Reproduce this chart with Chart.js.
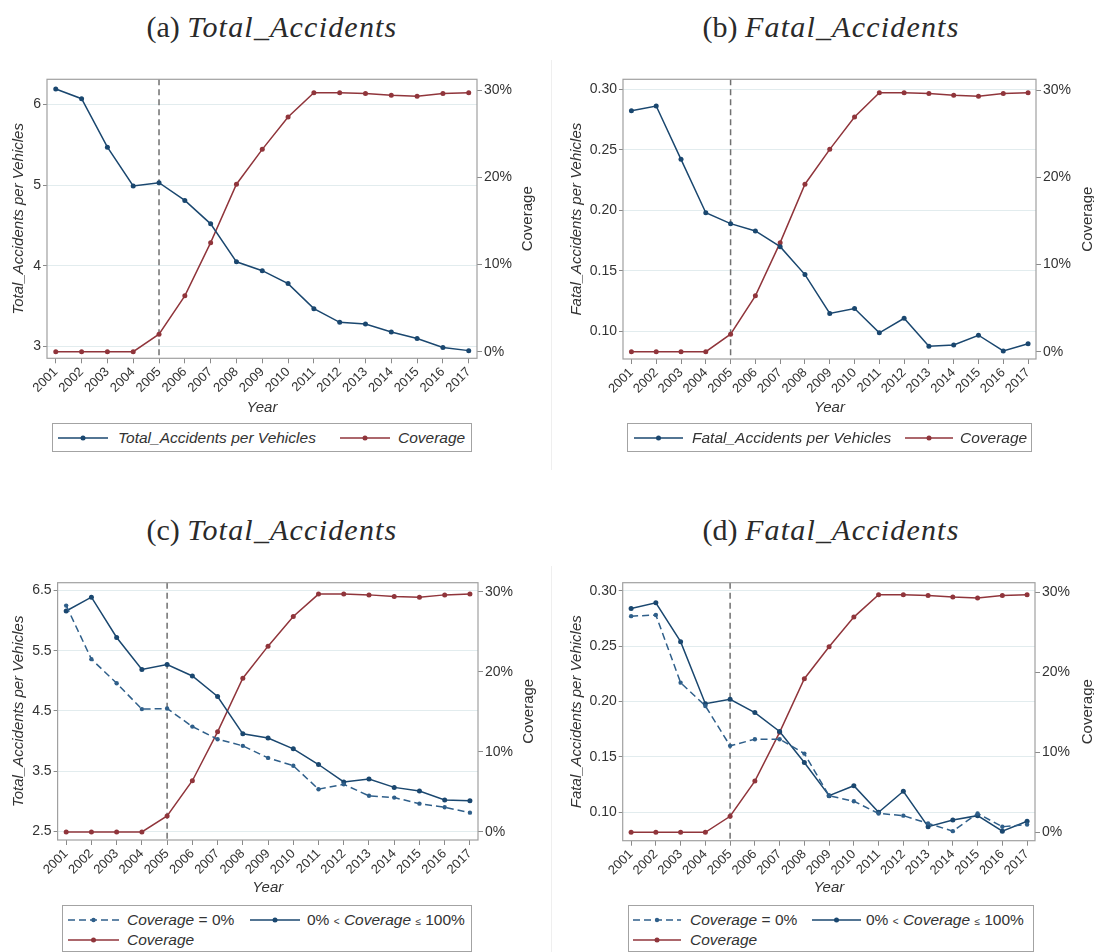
<!DOCTYPE html>
<html>
<head>
<meta charset="utf-8">
<script src="https://cdn.jsdelivr.net/npm/chart.js@4.4.0/dist/chart.umd.min.js"></script>
<style>
  html, body { margin: 0; padding: 0; background: #fff; }
  #page { position: relative; width: 1094px; height: 952px; overflow: hidden; background: #fff; }
  canvas { position: absolute; }
  .title { position: absolute; width: 500px; text-align: center; font-family: "Liberation Serif", "Times New Roman", serif;
           font-size: 30px; line-height: 30px; color: #2a2a2a; white-space: nowrap; }
  .title i { letter-spacing: 1.2px; }
  .legend { position: absolute; box-sizing: border-box; border: 1px solid #a3a3a3; background: #fff; }
  .legend svg { position: absolute; }
  .legend span { position: absolute; font-family: "Liberation Sans", Arial, sans-serif; font-size: 15.5px; line-height: 20px;
                 color: #333; white-space: nowrap; }
  .legend small { font-size: 10px; }
  .sep { position: absolute; width: 1px; background: #efefef; }
</style>
</head>
<body>
<div id="page">
  <div class="sep" style="left:551px;top:60px;height:410px"></div>
  <div class="sep" style="left:551px;top:566px;height:386px"></div>

  <div class="title" style="left:22px;top:12px">(a) <i>Total_Accidents</i></div>
  <div class="title" style="left:581px;top:12px">(b) <i>Fatal_Accidents</i></div>
  <div class="title" style="left:22px;top:515px">(c) <i>Total_Accidents</i></div>
  <div class="title" style="left:581px;top:515px">(d) <i>Fatal_Accidents</i></div>

  <canvas id="chartA" width="547" height="365" style="left:0;top:60px"></canvas>
  <canvas id="chartB" width="547" height="365" style="left:547px;top:60px"></canvas>
  <canvas id="chartC" width="547" height="345" style="left:0;top:560px"></canvas>
  <canvas id="chartD" width="547" height="345" style="left:547px;top:560px"></canvas>

  <div class="legend" style="left:52px;top:423px;width:420px;height:29px">
    <svg style="left:5px;top:9px" width="50" height="10"><line x1="0" y1="5" x2="50" y2="5" stroke="#1a476f" stroke-width="1.5"/><circle cx="25" cy="5" r="2.5" fill="#1a476f"/></svg>
    <span style="left:65px;top:4px"><i>Total_Accidents per Vehicles</i></span>
    <svg style="left:287px;top:9px" width="50" height="10"><line x1="0" y1="5" x2="50" y2="5" stroke="#90353b" stroke-width="1.5"/><circle cx="25" cy="5" r="2.5" fill="#90353b"/></svg>
    <span style="left:345px;top:4px"><i>Coverage</i></span>
  </div>
  <div class="legend" style="left:627px;top:423px;width:405px;height:29px">
    <svg style="left:6px;top:9px" width="49" height="10"><line x1="0" y1="5" x2="49" y2="5" stroke="#1a476f" stroke-width="1.5"/><circle cx="24.5" cy="5" r="2.5" fill="#1a476f"/></svg>
    <span style="left:64px;top:4px"><i>Fatal_Accidents per Vehicles</i></span>
    <svg style="left:277px;top:9px" width="48" height="10"><line x1="0" y1="5" x2="48" y2="5" stroke="#90353b" stroke-width="1.5"/><circle cx="24" cy="5" r="2.5" fill="#90353b"/></svg>
    <span style="left:332px;top:4px"><i>Coverage</i></span>
  </div>
  <div class="legend" style="left:62px;top:905px;width:410px;height:47px">
    <svg style="left:5px;top:9px" width="51" height="10"><line x1="0" y1="5" x2="51" y2="5" stroke="#2f5f8a" stroke-width="1.5" stroke-dasharray="7 4"/><circle cx="25.5" cy="5" r="2.2" fill="#2f5f8a"/></svg>
    <span style="left:64px;top:4px"><i>Coverage</i> = 0%</span>
    <svg style="left:187px;top:9px" width="50" height="10"><line x1="0" y1="5" x2="50" y2="5" stroke="#1a476f" stroke-width="1.5"/><circle cx="25" cy="5" r="2.5" fill="#1a476f"/></svg>
    <span style="left:244px;top:4px">0% <small>&lt;</small> <i>Coverage</i> <small>&le;</small> 100%</span>
    <svg style="left:5px;top:29px" width="51" height="10"><line x1="0" y1="5" x2="51" y2="5" stroke="#90353b" stroke-width="1.5"/><circle cx="25.5" cy="5" r="2.5" fill="#90353b"/></svg>
    <span style="left:64px;top:24px"><i>Coverage</i></span>
  </div>
  <div class="legend" style="left:628px;top:905px;width:406px;height:47px">
    <svg style="left:4px;top:9px" width="48" height="10"><line x1="0" y1="5" x2="48" y2="5" stroke="#2f5f8a" stroke-width="1.5" stroke-dasharray="7 4"/><circle cx="24" cy="5" r="2.2" fill="#2f5f8a"/></svg>
    <span style="left:61px;top:4px"><i>Coverage</i> = 0%</span>
    <svg style="left:183px;top:9px" width="49" height="10"><line x1="0" y1="5" x2="49" y2="5" stroke="#1a476f" stroke-width="1.5"/><circle cx="24.5" cy="5" r="2.5" fill="#1a476f"/></svg>
    <span style="left:237px;top:4px">0% <small>&lt;</small> <i>Coverage</i> <small>&le;</small> 100%</span>
    <svg style="left:4px;top:29px" width="48" height="10"><line x1="0" y1="5" x2="48" y2="5" stroke="#90353b" stroke-width="1.5"/><circle cx="24" cy="5" r="2.5" fill="#90353b"/></svg>
    <span style="left:61px;top:24px"><i>Coverage</i></span>
  </div>
</div>

<script>
// Data
const years = [2001, 2002, 2003, 2004, 2005, 2006, 2007, 2008, 2009, 2010, 2011, 2012, 2013, 2014, 2015, 2016, 2017];
const policyYear = 2005;

// Coverage (%), right axis, same in every panel
const coverage = [0, 0, 0, 0, 2.0, 6.4, 12.5, 19.2, 23.2, 26.9, 29.7, 29.7, 29.6, 29.4, 29.3, 29.6, 29.7];

// (a) and (b): all municipalities
const totalAccidents = [6.19, 6.07, 5.47, 4.99, 5.03, 4.81, 4.52, 4.05, 3.94, 3.78, 3.47, 3.30, 3.28, 3.18, 3.10, 2.99, 2.95];
const fatalAccidents = [0.282, 0.286, 0.242, 0.198, 0.189, 0.183, 0.170, 0.147, 0.115, 0.119, 0.099, 0.111, 0.088, 0.089, 0.097, 0.084, 0.090];

// (c) and (d): split by coverage group
const totalCovZero = [6.25, 5.36, 4.96, 4.53, 4.54, 4.24, 4.03, 3.92, 3.72, 3.59, 3.20, 3.28, 3.09, 3.06, 2.96, 2.90, 2.81];
const totalCovPos = [6.16, 6.39, 5.72, 5.19, 5.27, 5.08, 4.74, 4.12, 4.05, 3.87, 3.61, 3.32, 3.37, 3.23, 3.17, 3.02, 3.01];
const fatalCovZero = [0.277, 0.278, 0.217, 0.196, 0.160, 0.166, 0.166, 0.153, 0.115, 0.110, 0.099, 0.097, 0.090, 0.083, 0.099, 0.087, 0.089];
const fatalCovPos = [0.284, 0.289, 0.254, 0.198, 0.202, 0.190, 0.173, 0.145, 0.115, 0.124, 0.100, 0.119, 0.087, 0.093, 0.097, 0.083, 0.092];

// Tick labels
const totalTicksA = [3, 4, 5, 6];
const totalTicksC = [2.5, 3.5, 4.5, 5.5, 6.5];
const fatalTicks = [0.10, 0.15, 0.20, 0.25, 0.30];
const coverageTicks = [0, 10, 20, 30];

const NAVY = '#1a476f';
const NAVY_DASH = '#2f5f8a';
const MAROON = '#90353b';
const TEXT = '#333';
const SANS = '"Liberation Sans", Arial, sans-serif';

// plot frame + dashed vertical line at the policy year
const framePlugin = {
    id: 'frame',
    beforeDatasetsDraw(chart) {
        const { ctx, chartArea: a, scales } = chart;
        const x = scales.x.getPixelForValue(policyYear);
        ctx.save();
        ctx.strokeStyle = '#707070';
        ctx.lineWidth = 1.5;
        ctx.setLineDash([6, 4]);
        ctx.beginPath();
        ctx.moveTo(x, a.top);
        ctx.lineTo(x, a.bottom);
        ctx.stroke();
        ctx.setLineDash([]);
        ctx.strokeStyle = '#a0a0a0';
        ctx.lineWidth = 1.2;
        ctx.strokeRect(a.left, a.top, a.right - a.left, a.bottom - a.top);
        ctx.restore();
    }
};

// right axis title reads bottom-to-top like the left one
const rightTitlePlugin = {
    id: 'rightTitle',
    afterDraw(chart, args, opts) {
        const { ctx, chartArea: a } = chart;
        ctx.save();
        ctx.translate(opts.x, (a.top + a.bottom) / 2);
        ctx.rotate(-Math.PI / 2);
        ctx.font = `15px ${SANS}`;
        ctx.fillStyle = TEXT;
        ctx.textAlign = 'center';
        ctx.textBaseline = 'middle';
        ctx.fillText(opts.text, 0, 0);
        ctx.restore();
    }
};

function points(vals) {
    return years.map((yr, i) => ({ x: yr, y: vals[i] }));
}

function series(label, vals, color, axis, dashed) {
    return {
        label: label,
        data: points(vals),
        yAxisID: axis,
        borderColor: color,
        backgroundColor: color,
        borderWidth: 1.5,
        borderDash: dashed ? [7, 4] : [],
        pointRadius: dashed ? 2.2 : 2.5,
        pointBorderWidth: 0,
        tension: 0,
        fill: false
    };
}

function makePanel(id, p) {
    const ctx = document.getElementById(id).getContext('2d');
    return new Chart(ctx, {
        type: 'line',
        data: { datasets: p.datasets },
        options: {
            responsive: false,
            animation: false,
            layout: { padding: { top: p.padTop, left: 0, right: 0, bottom: 0 } },
            plugins: {
                legend: { display: false },
                tooltip: { enabled: false },
                rightTitle: { x: p.rightTitleX, text: 'Coverage' }
            },
            scales: {
                x: {
                    type: 'linear',
                    min: 2000.66,
                    max: 2017.32,
                    afterBuildTicks: s => { s.ticks = years.map(v => ({ value: v })); },
                    afterFit: s => { s.height = p.xHeight; },
                    border: { display: false },
                    grid: { drawOnChartArea: false, tickLength: 5, tickColor: '#8a8a8a' },
                    ticks: {
                        autoSkip: false, minRotation: 45, maxRotation: 45, padding: 1,
                        color: TEXT, font: { family: SANS, size: 13 },
                        callback: v => String(v)
                    },
                    title: {
                        display: true, text: 'Year', color: TEXT,
                        font: { family: SANS, size: 15, style: 'italic' },
                        padding: { top: 0, bottom: p.yearPad }
                    }
                },
                y: {
                    position: 'left',
                    min: p.yMin,
                    max: p.yMax,
                    afterBuildTicks: s => { s.ticks = p.leftTicks.map(v => ({ value: v })); },
                    afterFit: s => { s.width = p.leftWidth; },
                    border: { display: false },
                    grid: { color: '#e2ecee', lineWidth: 1, tickLength: 4, tickColor: '#8a8a8a' },
                    ticks: {
                        padding: 2, color: TEXT, font: { family: SANS, size: 14 },
                        callback: p.leftFmt
                    },
                    title: {
                        display: true, text: p.leftTitle, color: TEXT,
                        font: { family: SANS, size: 15, style: 'italic' },
                        padding: { top: p.leftTitlePad, bottom: 0 }
                    }
                },
                y2: {
                    position: 'right',
                    min: p.cMin,
                    max: p.cMax,
                    afterBuildTicks: s => { s.ticks = coverageTicks.map(v => ({ value: v })); },
                    afterFit: s => { s.width = p.rightWidth; },
                    border: { display: false },
                    grid: { drawOnChartArea: false, tickLength: 5, tickColor: '#8a8a8a' },
                    ticks: {
                        padding: 2, color: TEXT, font: { family: SANS, size: 14 },
                        callback: v => v + '%'
                    }
                }
            }
        },
        plugins: [framePlugin, rightTitlePlugin]
    });
}

makePanel('chartA', {
    datasets: [
        series('Total_Accidents per Vehicles', totalAccidents, NAVY, 'y', false),
        series('Coverage', coverage, MAROON, 'y2', false)
    ],
    padTop: 19.3, xHeight: 66.7, yearPad: 8.3,
    leftWidth: 47, rightWidth: 70, leftTitlePad: 10.2, rightTitleX: 527.7,
    yMin: 2.855, yMax: 6.31, leftTicks: totalTicksA, leftFmt: v => String(v),
    leftTitle: 'Total_Accidents per Vehicles',
    cMin: -0.76, cMax: 31.23
});

makePanel('chartB', {
    datasets: [
        series('Fatal_Accidents per Vehicles', fatalAccidents, NAVY, 'y', false),
        series('Coverage', coverage, MAROON, 'y2', false)
    ],
    padTop: 19.3, xHeight: 66, yearPad: 8.3,
    leftWidth: 76, rightWidth: 58, leftTitlePad: 20.7, rightTitleX: 540.8,
    yMin: 0.0774, yMax: 0.308, leftTicks: fatalTicks, leftFmt: v => v.toFixed(2),
    leftTitle: 'Fatal_Accidents per Vehicles',
    cMin: -0.84, cMax: 31.23
});

makePanel('chartC', {
    datasets: [
        series('Coverage = 0%', totalCovZero, NAVY_DASH, 'y', true),
        series('0% < Coverage ≤ 100%', totalCovPos, NAVY, 'y', false),
        series('Coverage', coverage, MAROON, 'y2', false)
    ],
    padTop: 22.7, xHeight: 65, yearPad: 7.7,
    leftWidth: 57.6, rightWidth: 69, leftTitlePad: 10, rightTitleX: 528.6,
    yMin: 2.356, yMax: 6.63, leftTicks: totalTicksC, leftFmt: v => v.toFixed(1),
    leftTitle: 'Total_Accidents per Vehicles',
    cMin: -1.0, cMax: 31.12
});

makePanel('chartD', {
    datasets: [
        series('Coverage = 0%', fatalCovZero, NAVY_DASH, 'y', true),
        series('0% < Coverage ≤ 100%', fatalCovPos, NAVY, 'y', false),
        series('Coverage', coverage, MAROON, 'y2', false)
    ],
    padTop: 22.7, xHeight: 64.3, yearPad: 7.7,
    leftWidth: 75.7, rightWidth: 59, leftTitlePad: 20.7, rightTitleX: 540.8,
    yMin: 0.0744, yMax: 0.3072, leftTicks: fatalTicks, leftFmt: v => v.toFixed(2),
    leftTitle: 'Fatal_Accidents per Vehicles',
    cMin: -1.05, cMax: 31.2
});
</script>
</body>
</html>
